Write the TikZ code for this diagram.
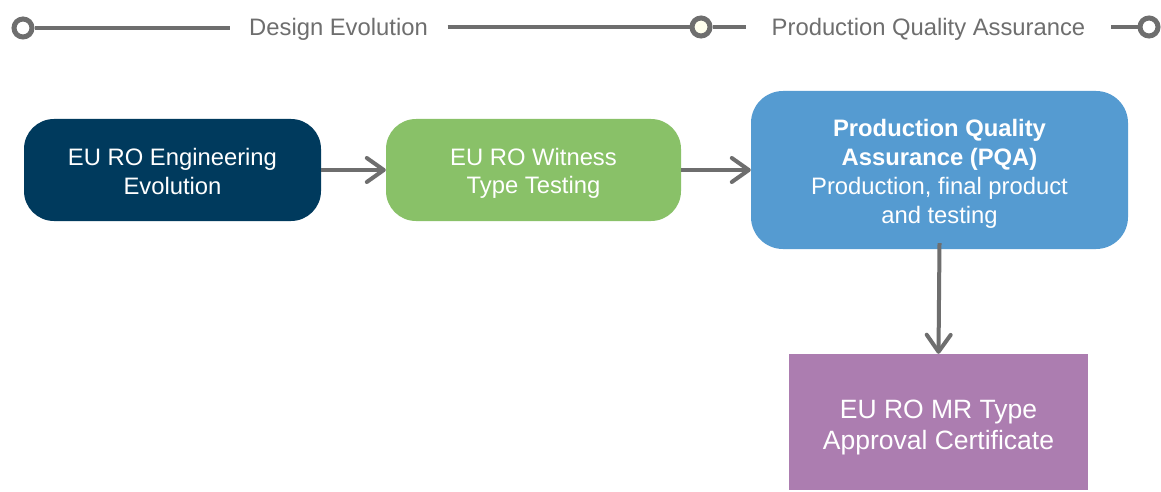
\documentclass[tikz,border=0pt]{standalone}
\usepackage{fontspec}
\setmainfont{Liberation Sans}
\usetikzlibrary{arrows.meta}
\definecolor{navy}{RGB}{0,58,93}
\definecolor{leaf}{RGB}{137,193,104}
\definecolor{sky}{RGB}{85,155,209}
\definecolor{plum}{RGB}{172,125,176}
\definecolor{rail}{RGB}{110,110,110}
\definecolor{cream}{RGB}{255,255,238}
\tikzset{
  x=1pt, y=1pt,
  box/.style={draw=none, inner sep=0pt},
  stagetext/.style={align=center, text=white, inner sep=0pt,
    font=\fontsize{23.8}{28.6}\selectfont},
  milestone/.style={circle, draw=rail, line width=5pt, fill=white,
    minimum size=18pt, inner sep=0pt},
  phase/.style={text=rail, inner ysep=0pt, font=\fontsize{23.8}{28}\selectfont},
  rail/.style={draw=rail, line width=4.5pt},
  flow/.style={draw=rail, line width=4pt,
    -{Straight Barb[length=17pt, width=24pt, line join=round, line cap=round]}}
}
\begin{document}
\begin{tikzpicture}
\useasboundingbox (0,0) rectangle (1161,491);
\fill[white] (0,0) rectangle (1161,491);

% phase timeline
\node[milestone] (c1) at (23,463) {};
\node[milestone, fill=cream] (c2) at (701,464) {};
\node[milestone] (c3) at (1149,464) {};
\node[phase, inner xsep=19.5pt] (t1) at (338.5,462) {Design Evolution};
\node[phase, inner xsep=26pt] (t2) at (928.5,462) {Production Quality Assurance};
\path[rail] (c1.east) -- (c1.east -| t1.west);
\path[rail] (c2.west -| t1.east) -- (c2.west);
\path[rail] (c2.east) -- (c2.east -| t2.west);
\path[rail] (c3.west -| t2.east) -- (c3.west);

% process stages
\node[box, fill=navy, rounded corners=30pt, minimum width=297pt, minimum height=102pt]
  (eng) at (172.5,321) {};
\node[stagetext] (engtxt) at ([yshift=-1.5pt]eng.center) {EU RO Engineering\\Evolution};
\node[box, fill=leaf, rounded corners=30pt, minimum width=295pt, minimum height=102pt]
  (wit) at (533.5,321) {};
\node[stagetext] (wittxt) at ([yshift=-3.5pt]wit.center) {EU RO Witness\\Type Testing};
\node[box, fill=sky, rounded corners=32pt, minimum width=377pt, minimum height=158pt]
  (pqa) at (939.5,321) {};
\node[stagetext, font=\fontsize{23.8}{29}\selectfont] (pqatxt) at ([yshift=-3.5pt]pqa.center)
  {\textbf{Production Quality}\\\textbf{Assurance (PQA)}\\Production, final product\\and testing};
\node[box, fill=plum, minimum width=299pt, minimum height=136pt] (cert) at (938.5,69) {};
\node[stagetext, font=\fontsize{26.5}{31}\selectfont] (certtxt) at ([yshift=-5.5pt]cert.center)
  {EU RO MR Type\\Approval Certificate};

% flow
\path[flow] (eng.east) -- (wit.west);
\path[flow] (wit.east) -- (pqa.west);
\path[flow] ([yshift=6pt]pqa.south) -- (cert.north);
\end{tikzpicture}
\end{document}
